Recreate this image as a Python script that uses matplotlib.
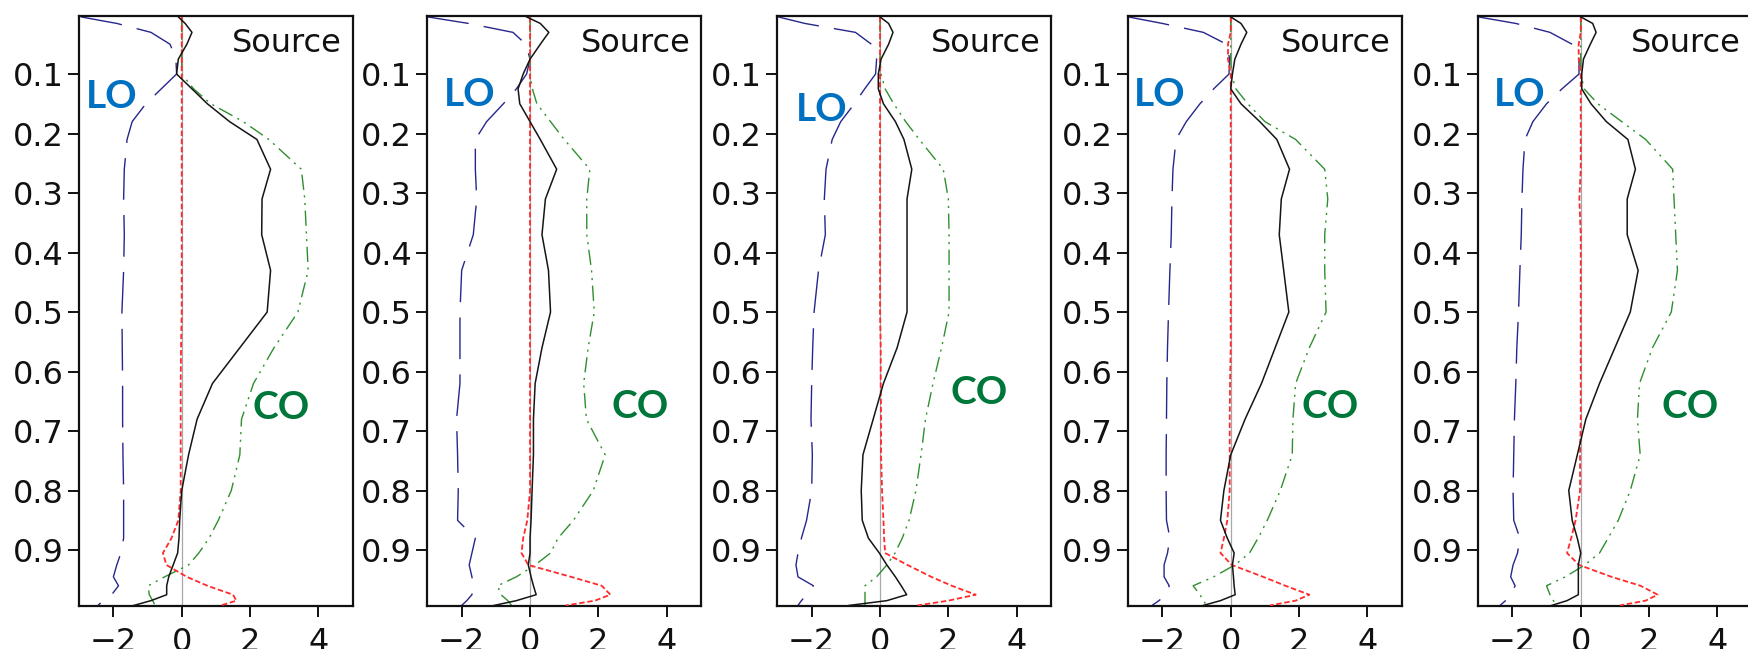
import matplotlib
matplotlib.use("Agg")
import matplotlib.pyplot as plt

# Sigma levels shared by every profile (0 = model top, 1 = surface)
SIGMA = [0.004, 0.015, 0.03, 0.05, 0.075, 0.10, 0.125, 0.15, 0.18, 0.21,
         0.26, 0.31, 0.37, 0.43, 0.50, 0.56, 0.62, 0.68, 0.74, 0.80,
         0.85, 0.88, 0.905, 0.925, 0.945, 0.96, 0.975, 0.985, 0.993]

# Total source (solid black), one row per panel
TOTAL = [
    [-0.1, 0.1, 0.3, 0.15, -0.1, -0.15, 0.3, 0.75, 1.4, 2.2, 2.6, 2.35, 2.34, 2.6, 2.5,
     1.7, 0.9, 0.45, 0.2, 0.0, -0.06, -0.08, -0.12, -0.25, -0.38, -0.44, -0.44, -0.9, -1.4],
    [-0.1, 0.3, 0.55, 0.3, 0.0, -0.2, -0.35, -0.3, 0.0, 0.3, 0.78, 0.45, 0.35, 0.54, 0.6,
     0.35, 0.15, 0.1, 0.1, 0.06, 0.03, 0.0, 0.0, -0.05, 0.03, 0.1, 0.18, -0.4, -1.05],
    [0.0, 0.25, 0.38, 0.25, 0.03, -0.05, -0.05, 0.1, 0.45, 0.7, 0.93, 0.79, 0.79, 0.79, 0.79,
     0.5, 0.1, -0.2, -0.5, -0.55, -0.52, -0.34, -0.02, 0.2, 0.45, 0.62, 0.78, 0.2, -0.9],
    [0.0, 0.3, 0.47, 0.3, 0.12, 0.05, 0.0, 0.3, 0.85, 1.35, 1.72, 1.48, 1.42, 1.55, 1.7,
     1.3, 0.9, 0.42, 0.0, -0.2, -0.3, -0.1, 0.1, 0.05, 0.08, 0.1, 0.13, -0.3, -0.8],
    [0.0, 0.35, 0.45, 0.28, 0.08, 0.03, 0.03, 0.3, 0.75, 1.38, 1.6, 1.36, 1.36, 1.68, 1.45,
     1.0, 0.55, 0.15, -0.1, -0.35, -0.25, -0.1, 0.0, -0.07, -0.07, -0.07, -0.07, -0.4, -0.85],
]

# LO term (blue long dashes)
LO = [
    [-2.95, -1.9, -0.9, -0.34, -0.17, -0.15, -0.6, -1.05, -1.45, -1.6, -1.68, -1.7, -1.68, -1.7, -1.75,
     -1.74, -1.73, -1.73, -1.72, -1.7, -1.7, -1.7, -1.78, -1.9, -2.0, -1.85, -2.05, -2.3, -2.45],
    [-3.0, -1.8, -0.5, -0.12, 0.0, -0.1, -0.4, -0.78, -1.27, -1.6, -1.6, -1.56, -1.66, -2.0, -2.05,
     -2.05, -2.05, -2.15, -2.12, -2.1, -2.12, -1.6, -1.7, -1.78, -1.7, -1.66, -1.7, -1.85, -2.0],
    [-2.98, -2.2, -0.72, -0.25, -0.1, -0.13, -0.45, -0.75, -1.15, -1.4, -1.58, -1.63, -1.6, -1.8, -1.93,
     -1.97, -2.0, -2.02, -1.98, -2.0, -2.15, -2.3, -2.4, -2.46, -2.4, -1.95, -2.15, -2.3, -2.4],
    [-3.0, -2.0, -0.8, -0.12, -0.03, -0.05, -0.5, -0.9, -1.3, -1.6, -1.69, -1.72, -1.74, -1.78, -1.82,
     -1.85, -1.87, -1.88, -1.89, -1.89, -1.88, -1.78, -1.85, -1.95, -1.95, -1.8, -1.9, -2.1, -2.3],
    [-3.0, -1.9, -0.9, -0.25, -0.05, -0.05, -0.55, -1.0, -1.4, -1.63, -1.69, -1.72, -1.74, -1.78, -1.82,
     -1.87, -1.9, -1.94, -1.96, -1.98, -1.96, -1.78, -1.85, -1.98, -2.05, -1.92, -2.05, -2.2, -2.36],
]

# CO term (green dash-dot-dot)
CO = [
    [0.0, 0.0, 0.0, 0.0, 0.0, 0.0, 0.35, 0.85, 1.8, 2.55, 3.5, 3.6, 3.65, 3.7, 3.4,
     2.7, 2.1, 1.75, 1.7, 1.45, 1.07, 0.8, 0.5, 0.2, -0.5, -0.98, -0.95, -0.85, -0.78],
    [0.0, 0.0, 0.0, 0.0, 0.0, 0.0, 0.07, 0.2, 0.6, 1.0, 1.75, 1.66, 1.66, 1.8, 1.88,
     1.7, 1.57, 1.65, 2.2, 1.85, 1.27, 0.82, 0.6, 0.15, -0.4, -0.95, -0.85, -0.65, -0.54],
    [0.0, 0.0, 0.0, 0.0, 0.0, 0.03, 0.15, 0.4, 0.75, 1.15, 1.85, 2.0, 2.02, 2.02, 2.02,
     1.8, 1.55, 1.33, 1.2, 1.05, 0.85, 0.65, 0.44, 0.2, -0.1, -0.44, -0.44, -0.44, -0.44],
    [0.0, 0.0, 0.0, 0.0, 0.0, 0.02, 0.15, 0.5, 1.0, 1.9, 2.75, 2.84, 2.75, 2.75, 2.79,
     2.3, 1.9, 1.82, 1.8, 1.45, 1.07, 0.8, 0.55, 0.12, -0.5, -1.1, -0.9, -0.8, -0.7],
    [0.0, 0.0, 0.0, 0.0, 0.0, 0.0, 0.1, 0.5, 1.2, 1.9, 2.69, 2.73, 2.78, 2.83, 2.65,
     2.1, 1.72, 1.66, 1.74, 1.45, 1.1, 0.8, 0.55, 0.12, -0.45, -1.0, -0.9, -0.8, -0.7],
]

# Residual term (red short dashes)
RESID = [
    [0.0, 0.0, 0.0, 0.0, 0.0, 0.0, 0.0, 0.0, 0.0, 0.0, 0.0, 0.0, 0.0, 0.0, 0.0,
     -0.02, -0.03, -0.03, -0.03, -0.03, -0.1, -0.3, -0.55, -0.45, 0.15, 0.75, 1.5, 1.6, 1.15],
    [0.0, 0.0, 0.0, 0.0, 0.0, 0.0, 0.0, 0.0, 0.0, 0.0, 0.0, 0.0, 0.0, 0.0, 0.0,
     0.0, 0.0, 0.0, 0.0, 0.0, -0.08, -0.2, -0.25, -0.05, 1.2, 2.1, 2.35, 1.9, 1.05],
    [0.0, 0.0, 0.0, 0.0, 0.0, 0.0, 0.0, 0.0, 0.0, 0.0, 0.0, 0.0, 0.0, 0.0, 0.0,
     0.02, 0.02, 0.03, 0.03, 0.06, 0.1, 0.12, 0.15, 0.8, 1.5, 2.1, 2.8, 2.0, 1.1],
    [0.0, 0.0, 0.0, -0.08, -0.08, 0.0, 0.0, 0.0, 0.0, 0.0, 0.0, 0.0, 0.0, 0.0, 0.0,
     0.0, -0.02, -0.03, -0.03, -0.03, -0.1, -0.2, -0.3, 0.03, 0.95, 1.6, 2.3, 1.9, 1.15],
    [0.0, 0.0, 0.0, -0.06, -0.06, 0.0, 0.0, 0.0, 0.0, 0.0, 0.0, -0.04, 0.0, 0.0, 0.0,
     0.0, 0.0, 0.0, -0.02, -0.02, -0.15, -0.28, -0.4, -0.05, 0.9, 1.75, 2.25, 1.9, 1.15],
]

X_TICKS = [-2, 0, 2, 4]
X_TICK_LABELS = ["\u22122", "0", "2", "4"]
Y_TICKS = [0.1, 0.2, 0.3, 0.4, 0.5, 0.6, 0.7, 0.8, 0.9]
Y_TICK_LABELS = ["0.1", "0.2", "0.3", "0.4", "0.5", "0.6", "0.7", "0.8", "0.9"]

# Label anchor points (data coordinates) for the LO / CO annotations in each panel
LO_XY = [(-2.04, 0.137), (-1.76, 0.134), (-1.70, 0.16), (-2.07, 0.134), (-1.78, 0.134)]
CO_XY = [(2.91, 0.66), (3.22, 0.658), (2.9, 0.635), (2.91, 0.658), (3.2, 0.658)]

FIG_W, FIG_H = 1749, 649
PANEL_LEFT = [79.2, 427.5, 777.5, 1128.2, 1478.2]
PANEL_W = 273.4
PANEL_BOTTOM = 606
PANEL_TOP = 16

plt.rcParams["font.family"] = ["DejaVu Sans"]

fig = plt.figure(figsize=(FIG_W / 100, FIG_H / 100), dpi=100)

for i in range(5):
    ax = fig.add_axes([PANEL_LEFT[i] / FIG_W, (FIG_H - PANEL_BOTTOM) / FIG_H,
                       PANEL_W / FIG_W, (PANEL_BOTTOM - PANEL_TOP) / FIG_H])
    ax.axvline(0, color="#a8a8a8", lw=0.9, zorder=1)
    ax.plot(LO[i], SIGMA, color="#26268c", lw=1.0, dashes=(30, 11), zorder=2)
    ax.plot(CO[i], SIGMA, color="#2f8f2f", lw=1.0, dashes=(11, 4, 1.5, 4, 1.5, 4), zorder=2)
    ax.plot(RESID[i], SIGMA, color="#ff2a2a", lw=1.3, dashes=(3, 1.5), zorder=3)
    ax.plot(TOTAL[i], SIGMA, color="#151515", lw=1.1, zorder=4)

    ax.set_xlim(-3, 5)
    ax.set_ylim(0.994, 0.0025)
    ax.set_xticks(X_TICKS)
    ax.set_xticklabels(X_TICK_LABELS)
    ax.set_yticks(Y_TICKS)
    ax.set_yticklabels(Y_TICK_LABELS)
    for sp in ax.spines.values():
        sp.set_linewidth(1.6)
        sp.set_color("#111111")
    ax.tick_params(direction="out", length=8, width=1.4, labelsize=23,
                   colors="#111111")
    ax.tick_params(axis="x", pad=7)
    ax.tick_params(axis="y", pad=3)

    ax.text(0.962, 0.939, "Source", transform=ax.transAxes, ha="right",
            va="baseline", fontsize=23, color="#111111")
    ax.text(LO_XY[i][0], LO_XY[i][1], "LO", color="#0070C0", family="Lato",
            fontweight="bold", fontsize=28, ha="center", va="center", clip_on=False,
            zorder=6)
    ax.text(CO_XY[i][0], CO_XY[i][1], "CO", color="#00773A", family="Lato",
            fontweight="bold", fontsize=28, ha="center", va="center", clip_on=False,
            zorder=6)

fig.savefig("out.png", dpi=100, facecolor="white")
